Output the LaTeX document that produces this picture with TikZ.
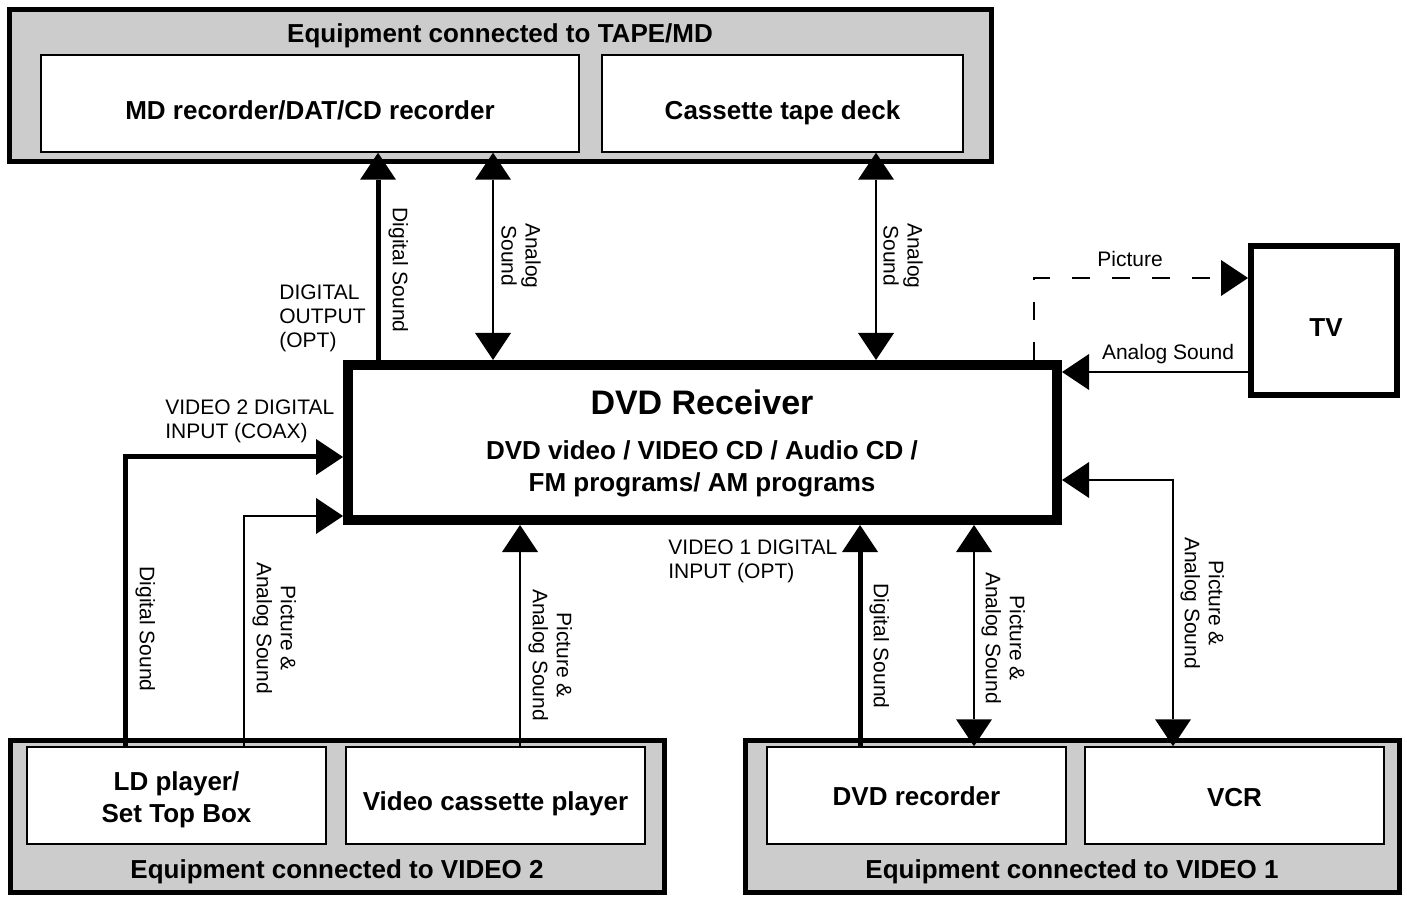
\documentclass[tikz,border=0pt]{standalone}
\usepackage{fontspec}
\setmainfont{Liberation Sans}
\usetikzlibrary{arrows.meta}
\begin{document}
\begin{tikzpicture}[x=.5pt,y=-.5pt,>={Triangle[length=13.5pt,width=18pt,line width=0pt]},
  grp/.style={draw,line width=2.5pt,fill=black!20,inner sep=0pt},
  unit/.style={draw,line width=.75pt,fill=white,inner sep=0pt},
  utxt/.style={inner sep=0pt,align=center,font=\fontsize{13pt}{16pt}\selectfont\bfseries},
  lbl/.style={inner sep=0pt,font=\fontsize{10.5pt}{12pt}\selectfont},
  vlbl/.style={lbl,align=center,rotate=-90,anchor=south},
  thickline/.style={line width=2.5pt},
  thinline/.style={line width=1pt}]
  \useasboundingbox (0,0) rectangle (1407,897);
  % equipment groups
  \node[grp,minimum width=491pt,minimum height=76pt] (tapegrp) at (500,86) {};
  \node[grp,minimum width=327pt,minimum height=76pt] (v2grp) at (337,816) {};
  \node[grp,minimum width=327pt,minimum height=76pt] (v1grp) at (1072,816) {};
  \node[utxt,anchor=base] (tapettl) at (500,43) {Equipment connected to TAPE/MD};
  \node[utxt,anchor=base] (v2ttl) at (337,878) {Equipment connected to VIDEO 2};
  \node[utxt,anchor=base] (v1ttl) at (1072,878) {Equipment connected to VIDEO 1};
  \node[unit,minimum width=269pt,minimum height=48.5pt] (md) at (310,103.5) {};
  \node[unit,minimum width=180.5pt,minimum height=48.5pt] (deck) at (782.5,103.5) {};
  \node[unit,minimum width=149.5pt,minimum height=48.5pt] (ld) at (176.5,795.5) {};
  \node[unit,minimum width=149.5pt,minimum height=48.5pt] (vcp) at (495.5,795.5) {};
  \node[unit,minimum width=149.5pt,minimum height=48.5pt] (dvdrec) at (916.5,795.5) {};
  \node[unit,minimum width=149.5pt,minimum height=48.5pt] (vcr) at (1234.5,795.5) {};
  \node[utxt,anchor=base] (mdtxt) at (310,120) {MD recorder/DAT/CD recorder};
  \node[utxt,anchor=base] (decktxt) at (782.5,120) {Cassette tape deck};
  \node[utxt] (ldtxt) at (176.5,800) {LD player/\\Set Top Box};
  \node[utxt,anchor=base] (vcptxt) at (495.5,810) {Video cassette player};
  \node[utxt,anchor=base] (dvdrectxt) at (916.5,805) {DVD recorder};
  \node[utxt,anchor=base] (vcrtxt) at (1234.5,806) {VCR};
  % receiver and tv
  \node[draw,line width=5pt,inner sep=0pt,minimum width=354.5pt,minimum height=77.5pt] (recv) at (702.5,442.5) {};
  \node[utxt,anchor=base,font=\fontsize{17pt}{20pt}\selectfont\bfseries] (recvttl) at (702,415) {DVD Receiver};
  \node[utxt,anchor=base] (recvsrc) at (702,460) {DVD video / VIDEO CD / Audio CD /};
  \node[utxt,anchor=base] (recvtuner) at (702,492) {FM programs/ AM programs};
  \node[draw,line width=3pt,inner sep=0pt,minimum width=73pt,minimum height=74.5pt] (tv) at (1324,320.5) {};
  \node[utxt,anchor=base] (tvtxt) at (1326,337) {TV};
  % where the connectors run
  \coordinate (dout) at (378,0);
  \coordinate (tapesnd) at (493,0);
  \coordinate (decksnd) at (876,0);
  \coordinate (picbend) at (1034,278);
  \coordinate (tvsnd) at (0,372);
  \coordinate (v2dig) at (125,457);
  \coordinate (v2pic) at (244,516);
  \coordinate (vcpsnd) at (520,0);
  \coordinate (v1dig) at (860,0);
  \coordinate (dvdsnd) at (974,0);
  \coordinate (vcrbend) at (1173,480);
  \draw[thickline,->] (recv.north -| dout) -- (md.south -| dout);
  \draw[thinline,<->] (recv.north -| tapesnd) -- (md.south -| tapesnd);
  \draw[thinline,<->] (recv.north -| decksnd) -- (deck.south -| decksnd);
  \draw[thinline,dash pattern=on 9pt off 11pt,->] (recv.north -| picbend) |- (tv.west |- picbend);
  \draw[thinline,->] (tv.west |- tvsnd) -- (recv.east |- tvsnd);
  \draw[thickline,->] (ld.north -| v2dig) |- (recv.west |- v2dig);
  \draw[thinline,->] (ld.north -| v2pic) |- (recv.west |- v2pic);
  \draw[thinline,->] (vcp.north -| vcpsnd) -- (recv.south -| vcpsnd);
  \draw[thickline,->] (dvdrec.north -| v1dig) -- (recv.south -| v1dig);
  \draw[thinline,<->] (recv.south -| dvdsnd) -- (dvdrec.north -| dvdsnd);
  \draw[thinline,<->] (vcr.north -| vcrbend) |- (recv.east |- vcrbend);
  % labels
  \node[vlbl] (doutlbl) at (388,270) {Digital Sound};
  \node[vlbl] (tapesndlbl) at (501,256) {Analog\\Sound};
  \node[vlbl] (decksndlbl) at (883,256) {Analog\\Sound};
  \node[lbl,align=left,anchor=north west] (optlbl) at (279,284) {DIGITAL\\OUTPUT\\(OPT)};
  \node[lbl,anchor=base] (piclbl) at (1130,267) {Picture};
  \node[lbl,anchor=base] (tvsndlbl) at (1168,360) {Analog Sound};
  \node[lbl,align=left,anchor=north west] (coaxlbl) at (165,399) {VIDEO 2 DIGITAL\\INPUT (COAX)};
  \node[vlbl] (v2diglbl) at (135,629) {Digital Sound};
  \node[vlbl] (v2piclbl) at (252,628) {Picture \&\\Analog Sound};
  \node[vlbl] (vcplbl) at (528,655) {Picture \&\\Analog Sound};
  \node[lbl,align=left,anchor=north west] (v1optlbl) at (668,539) {VIDEO 1 DIGITAL\\INPUT (OPT)};
  \node[vlbl] (v1diglbl) at (869,646) {Digital Sound};
  \node[vlbl] (dvdlbl) at (981,638) {Picture \&\\Analog Sound};
  \node[vlbl] (vcrlbl) at (1180,603) {Picture \&\\Analog Sound};
\end{tikzpicture}
\end{document}
